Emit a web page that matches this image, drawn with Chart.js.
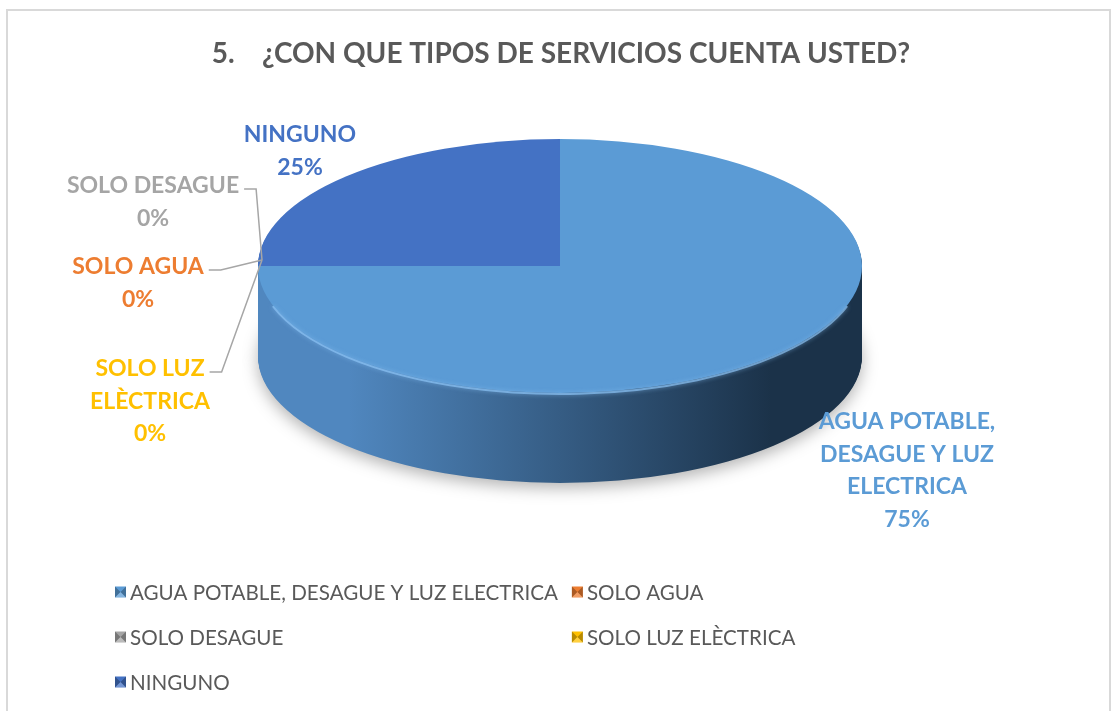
<!DOCTYPE html>
<html>
<head>
<meta charset="utf-8">
<script src="https://cdn.jsdelivr.net/npm/chart.js@4.4.1/dist/chart.umd.min.js"></script>
<style>
  html, body { margin: 0; padding: 0; background: #fff; }
  canvas { display: block; }
</style>
</head>
<body>
<canvas id="chart" width="1112" height="711"></canvas>
<script>
// data
const categories = ["AGUA POTABLE, DESAGUE Y LUZ ELECTRICA", "SOLO AGUA", "SOLO DESAGUE", "SOLO LUZ ELÈCTRICA", "NINGUNO"];
const values = [75, 0, 0, 0, 25];
const colors = ["#5B9BD5", "#ED7D31", "#A5A5A5", "#FFC000", "#4472C4"];
const sideColors = [["#5087bf", "#1b3249"], ["#c4622a", "#7a3b15"], ["#8a8a8a", "#555555"], ["#d9a300", "#8a6700"], ["#3a62a8", "#1d3157"]];
const titleText = "5.    ¿CON QUE TIPOS DE SERVICIOS CUENTA USTED?";

// layout of the fake 3d pie
const PIE = { cx: 560, cy: 266, rx: 302, ry: 127, depth: 90 };
const labelPos = [
    { x: 907, y: 422, wrap: 200 },
    { x: 138, y: 267, wrap: 230 },
    { x: 153, y: 186, wrap: 230 },
    { x: 150, y: 369, wrap: 130 },
    { x: 300, y: 135, wrap: 230 }
];
const LABEL_FONT = "bold 23px Lato";
const LEGEND_FONT = "20.6px Lato";

function withEllipse(ctx, arc, dy) {
    const R = arc.outerRadius;
    ctx.translate(PIE.cx, PIE.cy + dy);
    ctx.scale(PIE.rx / R, PIE.ry / R);
    ctx.translate(-arc.x, -arc.y);
}

function drawWith(el, ctx, opts) {
    const saved = el.options;
    el.options = Object.assign({}, saved, opts);
    el.draw(ctx);
    el.options = saved;
}

function wrapText(ctx, text, maxW) {
    const words = text.split(" ");
    const lines = [];
    let line = "";
    words.forEach(w => {
        const test = line ? line + " " + w : w;
        if (line && ctx.measureText(test).width > maxW) {
            lines.push(line);
            line = w;
        } else {
            line = test;
        }
    });
    if (line) lines.push(line);
    return lines;
}

const pie3d = {
    id: "pie3d",
    beforeDraw(chart) {
        const ctx = chart.ctx;
        ctx.save();
        ctx.strokeStyle = "#d9d9d9";
        ctx.lineWidth = 2;
        ctx.strokeRect(7, 10, 1103, 720);
        ctx.restore();
    },
    beforeDatasetsDraw(chart) {
        const ctx = chart.ctx;
        const arcs = chart.getDatasetMeta(0).data;
        const a0 = arcs[0];
        const R = a0.outerRadius;
        const grads = arcs.map((el, i) => {
            const g = ctx.createLinearGradient(a0.x - R, 0, a0.x + R, 0);
            g.addColorStop(0, sideColors[i][0]);
            g.addColorStop(0.15, sideColors[i][0]);
            g.addColorStop(0.85, sideColors[i][1]);
            g.addColorStop(1, sideColors[i][1]);
            return g;
        });
        // side wall, stacked from the bottom up
        for (let d = PIE.depth; d >= 1; d--) {
            ctx.save();
            if (d === PIE.depth) {
                ctx.shadowColor = "rgba(0,0,0,0.3)";
                ctx.shadowBlur = 16;
                ctx.shadowOffsetY = 5;
            }
            withEllipse(ctx, a0, d);
            arcs.forEach((el, i) => {
                if (values[i] > 0) drawWith(el, ctx, { backgroundColor: grads[i], borderWidth: 0 });
            });
            ctx.restore();
        }
        ctx.save();
        withEllipse(ctx, a0, 0);
    },
    afterDatasetsDraw(chart) {
        const ctx = chart.ctx;
        ctx.restore();
        // soft light rim on the front edge of the top
        ctx.save();
        ctx.beginPath();
        ctx.ellipse(PIE.cx, PIE.cy + 1, PIE.rx, PIE.ry, 0, 0.1 * Math.PI, 0.9 * Math.PI);
        ctx.strokeStyle = "rgba(140,195,245,0.7)";
        ctx.shadowColor = "rgba(140,195,245,0.9)";
        ctx.shadowBlur = 4;
        ctx.lineWidth = 2;
        ctx.stroke();
        ctx.restore();
    },
    afterDraw(chart) {
        const ctx = chart.ctx;
        const arcs = chart.getDatasetMeta(0).data;
        const total = values.reduce((a, b) => a + b, 0);
        ctx.save();
        ctx.font = LABEL_FONT;
        ctx.textAlign = "center";
        ctx.textBaseline = "middle";
        categories.forEach((cat, i) => {
            const p = labelPos[i];
            const lines = wrapText(ctx, cat, p.wrap);
            lines.push(Math.round(values[i] / total * 100) + "%");
            ctx.fillStyle = colors[i];
            lines.forEach((ln, k) => ctx.fillText(ln, p.x, p.y + k * 32.5));
            if (values[i] === 0) {
                const a = arcs[i].startAngle;
                const px = PIE.cx + PIE.rx * Math.cos(a) + 4;
                const py = PIE.cy + PIE.ry * Math.sin(a) - 6;
                const sx = p.x + ctx.measureText(lines[0]).width / 2 + 5;
                const sy = p.y + 3;
                ctx.beginPath();
                ctx.moveTo(sx, sy);
                ctx.lineTo(sx + 12, sy);
                ctx.lineTo(px, py);
                ctx.strokeStyle = "#a6a6a6";
                ctx.lineWidth = 1.5;
                ctx.stroke();
            }
        });

        // legend, laid out on a 2 column grid
        ctx.font = LEGEND_FONT;
        ctx.textAlign = "left";
        const maxW = Math.max(...categories.map(c => ctx.measureText(c).width));
        const colX = [115, 115 + 15 + maxW + 14];
        categories.forEach((cat, i) => {
            const x = colX[i % 2];
            const y = 592 + Math.floor(i / 2) * 45;
            const s = 11, top = y - s / 2;
            ctx.fillStyle = colors[i];
            ctx.fillRect(x, top, s, s);
            ctx.fillStyle = "rgba(0,0,0,0.28)";
            ctx.beginPath();
            ctx.moveTo(x, top); ctx.lineTo(x + s / 2, y); ctx.lineTo(x, top + s); ctx.closePath();
            ctx.moveTo(x + s, top); ctx.lineTo(x + s / 2, y); ctx.lineTo(x + s, top + s); ctx.closePath();
            ctx.fill();
            ctx.fillStyle = "rgba(255,255,255,0.25)";
            ctx.beginPath();
            ctx.moveTo(x, top + s); ctx.lineTo(x + s / 2, y); ctx.lineTo(x + s, top + s); ctx.closePath();
            ctx.fill();
            ctx.fillStyle = "#595959";
            ctx.textBaseline = "middle";
            ctx.fillText(cat, x + 15, y + 1);
        });
        ctx.restore();
    }
};

new Chart(document.getElementById("chart"), {
    type: "pie",
    data: {
        labels: categories,
        datasets: [{
            data: values,
            backgroundColor: colors,
            borderWidth: 0
        }]
    },
    options: {
        responsive: false,
        animation: false,
        devicePixelRatio: 1,
        layout: { padding: { left: 10 } },
        plugins: {
            legend: { display: false },
            tooltip: { enabled: false },
            title: {
                display: true,
                text: titleText,
                color: "#595959",
                font: { family: "Lato", size: 28, weight: "bold" },
                padding: { top: 37, bottom: 10 }
            }
        }
    },
    plugins: [pie3d]
});
</script>
</body>
</html>
